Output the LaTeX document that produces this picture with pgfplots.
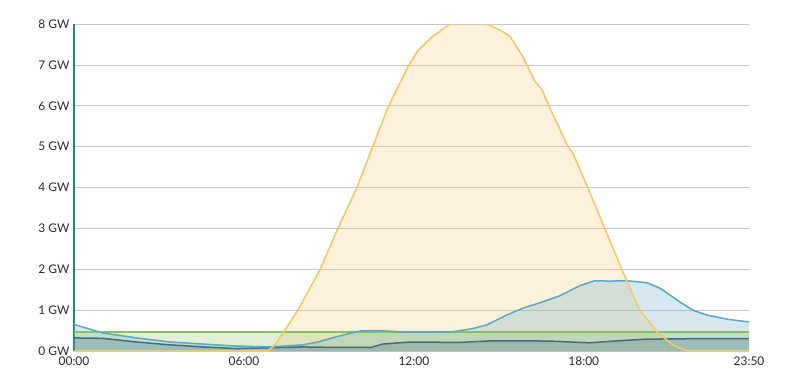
\documentclass[border=0pt]{standalone}
\usepackage{fontspec}
\setmainfont{Lato}
\usepackage{pgfplots}
\usepackage{pgfplotstable}
\pgfplotsset{compat=1.18}
\definecolor{solarc}{HTML}{F4C86A}
\definecolor{bluec}{HTML}{5AA8C8}
\definecolor{greenc}{HTML}{86C05C}
\definecolor{darkc}{HTML}{466A85}
\definecolor{axisc}{HTML}{1E8C84}
\definecolor{gridc}{HTML}{C8C8C8}
\definecolor{textc}{HTML}{2A2A2A}

\pgfplotstableread{
h v
0 0
6.85 0
7.1 0.15
7.38 0.44
7.91 1.0
8.3 1.5
8.68 1.98
9.32 3.0
9.99 4.0
10.55 5.0
11.08 5.95
11.75 6.9
12.14 7.35
12.67 7.7
13.27 8.0
13.6 8.2
13.9 8.3
14.25 8.2
14.58 8.0
15.04 7.85
15.39 7.7
15.85 7.2
16.27 6.6
16.52 6.4
16.80 5.95
17.44 5.0
17.61 4.85
18.14 4.0
18.74 3.0
19.34 2.0
19.98 1.0
20.58 0.47
21.14 0.15
21.64 0
23.8333 0
}\solar

\pgfplotstableread{
h v
0 0.65
1.02 0.44
2.22 0.32
3.39 0.22
4.55 0.17
5.75 0.12
6.92 0.10
8.08 0.15
8.61 0.22
9.28 0.35
10.10 0.49
10.70 0.50
11.86 0.46
13.38 0.47
14.08 0.55
14.58 0.64
15.28 0.88
15.85 1.05
16.45 1.18
17.15 1.35
17.86 1.60
18.39 1.72
18.92 1.71
19.52 1.72
20.23 1.67
20.68 1.54
21.04 1.37
21.39 1.20
21.85 1.0
22.34 0.88
23.05 0.78
23.8333 0.71
}\wind

\pgfplotstableread{
h v
0 0.47
23.8333 0.47
}\hydro

\pgfplotstableread{
h v
0 0.32
1.02 0.31
2.22 0.22
3.39 0.15
4.55 0.10
5.75 0.06
6.92 0.08
8.08 0.10
9.0 0.09
10.5 0.09
10.9 0.17
11.86 0.22
13.62 0.21
14.78 0.25
15.99 0.25
16.9 0.24
18.2 0.20
19.2 0.25
20.23 0.29
21.64 0.30
23.8333 0.30
}\other

\begin{document}
\begin{tikzpicture}
\begin{axis}[
  scale only axis, width=675bp, height=327bp,
  xmin=0, xmax=23.8333, ymin=0, ymax=8,
  axis x line*=bottom, axis y line*=left,
  x axis line style={draw=none},
  y axis line style={draw=axisc, line width=2.6bp},
  major tick length=0pt,
  ytick={0,1,...,8},
  yticklabel={\pgfmathprintnumber{\tick} GW},
  xtick={0,6,12,18,23.8333},
  xticklabels={00:00,06:00,12:00,18:00,23:50},
  ymajorgrids, major grid style={draw=gridc, line width=0.7bp},
  tick label style={font=\fontsize{12}{14}\selectfont, text=textc},
  /pgf/number format/assume math mode=true,
  yticklabel style={xshift=-1bp},
  xticklabel style={yshift=-2bp},
]
\addplot[draw=none, fill=solarc, fill opacity=0.25] table[x=h,y=v] {\solar} \closedcycle;
\addplot[draw=none, fill=bluec, fill opacity=0.25] table[x=h,y=v] {\wind} \closedcycle;
\addplot[draw=none, fill=greenc, fill opacity=0.25] table[x=h,y=v] {\hydro} \closedcycle;
\addplot[draw=none, fill=darkc, fill opacity=0.28] table[x=h,y=v] {\other} \closedcycle;
\addplot[draw=greenc, line width=1.5bp] table[x=h,y=v] {\hydro};
\addplot[draw=darkc, line width=1.5bp] table[x=h,y=v] {\other};
\addplot[draw=bluec, line width=1.5bp] table[x=h,y=v] {\wind};
\addplot[draw=solarc, line width=1.6bp] table[x=h,y=v] {\solar};
\end{axis}
\path (-74bp,-38bp) rectangle (723bp,351bp);
\end{tikzpicture}
\end{document}
